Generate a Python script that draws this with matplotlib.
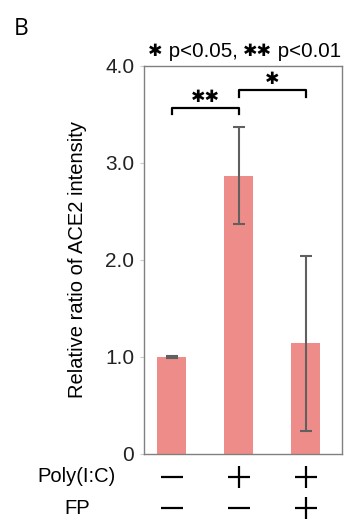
import matplotlib.pyplot as plt
import matplotlib.transforms as mtransforms

# data
groups = ['ctrl', 'PolyIC', 'PolyIC+FP']
ratio = [1.0, 2.87, 1.14]
err = [0.01, 0.5, 0.9]
poly_ic = ['-', '+', '+']
fp = ['-', '-', '+']
yticks = [0, 1.0, 2.0, 3.0, 4.0]
yticklabels = ['0', '1.0', '2.0', '3.0', '4.0']
# significance: (left, right, y, label)
sig = [(0, 1, 3.50, '\u2731\u2731'), (1, 2, 3.68, '\u2731')]

BAR_COLOR = '#ee8c8a'
STAR = '\u2731'
plt.rcParams['font.family'] = ['Liberation Sans', 'DejaVu Sans']

fig = plt.figure(figsize=(3.53, 5.29), dpi=100)
ax = fig.add_axes([0.408, 0.1418, 0.561, 0.7335])

x = list(range(len(groups)))
ax.bar(x, ratio, width=0.42, color=BAR_COLOR, zorder=2)
ax.errorbar(x, ratio, yerr=err, fmt='none', ecolor='#606060',
            elinewidth=1.5, capsize=4.5, capthick=1.5, zorder=3)

ax.set_xlim(-0.41, 2.545)
ax.set_ylim(0, 4.0)
ax.set_xticks([])
ax.set_yticks(yticks)
ax.set_yticklabels(yticklabels, fontsize=15, color='#222222')
ax.tick_params(axis='y', length=3, color='#cccccc', pad=4)
for s in ax.spines.values():
    s.set_color('#808080')
    s.set_linewidth(1.0)
ax.set_ylabel('Relative ratio of ACE2 intensity', fontsize=14.5, labelpad=13)

# brackets
for l, r, y, lab in sig:
    ax.plot([l, l, r, r], [y, y + 0.07, y + 0.07, y], color='black',
            lw=1.6, clip_on=False, zorder=4)
    ax.text((l + r) / 2, y + 0.1, lab, ha='center', va='bottom',
            fontsize=12.5, color='black')

# significance key, stars a bit smaller than the text,
# each piece chained to the end of the previous one
pieces = [(STAR, 12.5), (' p<0.05, ', 14.8), (STAR + STAR, 12.5), (' p<0.01', 14.8)]
anchor = fig.text(0.42, 0.903, pieces[0][0], fontsize=pieces[0][1],
                  ha='left', va='center')
for txt, fs in pieces[1:]:
    anchor = ax.annotate(txt, xy=(1, 0.5), xycoords=anchor, fontsize=fs,
                         va='center', ha='left', annotation_clip=False)

fig.text(0.04, 0.946, 'B', fontsize=16.5, family='Open Sans', ha='left',
         va='center')

# condition table under the bars
trans = mtransforms.blended_transform_factory(ax.transData, fig.transFigure)
rows = [(poly_ic, 0.099, 'Poly(I:C)'), (fp, 0.039, 'FP')]
for signs, yf, name in rows:
    fig.text(0.218, yf, name, fontsize=14.5, ha='center', va='center')
    for xi, sgn in zip(x, signs):
        mk = '+' if sgn == '+' else '_'
        ax.plot([xi], [yf], marker=mk, markersize=16.5, mew=1.6,
                color='black', transform=trans, clip_on=False)

fig.savefig('out.png', dpi=100)
